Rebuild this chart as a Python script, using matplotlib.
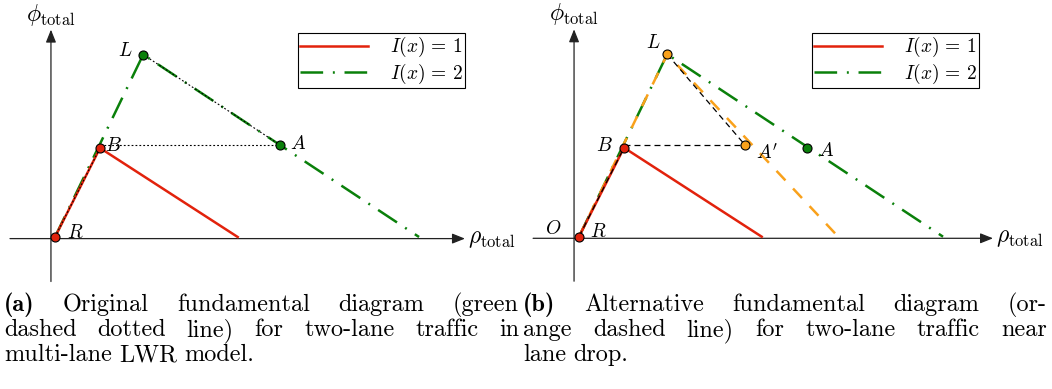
import matplotlib
matplotlib.use("Agg")
import matplotlib.pyplot as plt
from matplotlib.lines import Line2D

plt.rcParams["mathtext.fontset"] = "cm"
plt.rcParams["lines.scale_dashes"] = False

# ---------------------------------------------------------------- data
# I(x) = 1 : one-lane triangular fundamental diagram  R -> B -> jam density
rho_one = [0.0, 1.0, 4.06]
phi_one = [0.0, 1.0, 0.0]
# I(x) = 2 : two-lane diagram  R -> L -> jam density
rho_two = [0.0, 1.96, 8.09]
phi_two = [0.0, 2.05, 0.0]
# alternative two-lane diagram near a lane drop
rho_alt = [0.0, 1.96, 5.76]
phi_alt = [0.0, 2.05, 0.0]

# labelled states, panel (a)
names_a = ["R", "B", "L", "A"]
rho_pts_a = [0.0, 1.0, 1.96, 5.01]
phi_pts_a = [0.0, 1.0, 2.05, 1.03]
# labelled states, panel (b)
names_b = ["R", "B", "L", "A'", "A"]
rho_pts_b = [0.0, 1.0, 1.96, 3.69, 5.07]
phi_pts_b = [0.0, 1.0, 2.05, 1.03, 1.0]

legend_labels = [r"$I(x)\,=\,1$", r"$I(x)\,=\,2$"]

caption_tags = ["(a)", "(b)"]
caption_a = ["Original fundamental diagram (green",
             "dashed dotted line) for two-lane traffic in",
             "multi-lane LWR model."]
caption_b = ["Alternative fundamental diagram (or-",
             "ange dashed line) for two-lane traffic near",
             "lane drop."]

# ---------------------------------------------------------------- style
W, H, DPI = 1052, 389, 100
XU, YU = 45.0, 89.0          # pixels per data unit
PANEL_H = 260
RED = "#e2220c"
GREEN = "#0a800a"
ORANGE = "#f9a11b"
AXIS = "#222222"
LW = 1.8
DASHDOT = (16.3, 7.0, 1.4, 7.0)
DASHED = (9.4, 8.0)
DOTTED = (1.3, 1.5)
BLACKDASH = (4.3, 2.9)
PT_FS = 14       # point labels
AX_FS = 17       # axis labels
LEG_FS = 14
CAP_FS = 17.5

fig = plt.figure(figsize=(W / DPI, H / DPI), dpi=DPI)


def make_axes(px_left, px_width, origin):
    ox, oy = origin
    ax = fig.add_axes([px_left / W, 1 - PANEL_H / H, px_width / W, PANEL_H / H])
    ax.set_xlim((px_left - ox) / XU, (px_left + px_width - ox) / XU)
    ax.set_ylim(-(PANEL_H - oy) / YU, oy / YU)
    ax.axis("off")
    return ax


def draw_frame(ax, x0, y0, x_from, x_tip, y_from, y_tip):
    kw = dict(arrowstyle="-|>,head_length=0.55,head_width=0.22",
              mutation_scale=14, color=AXIS, lw=0.9, shrinkA=0, shrinkB=0)
    ax.annotate("", xy=(x_tip, y0), xytext=(x_from, y0), arrowprops=kw,
                annotation_clip=False)
    ax.annotate("", xy=(x0, y_tip), xytext=(x0, y_from), arrowprops=kw,
                annotation_clip=False)
    ax.text(x0, y_tip + 15 / YU, r"$\phi_{\mathrm{total}}$", fontsize=AX_FS,
            ha="center", va="center")
    ax.text(x_tip + 3 / XU, y0 + 1 / YU, r"$\rho_{\mathrm{total}}$",
            fontsize=AX_FS, ha="left", va="center")


def label_points(ax, names, xs, ys, offsets):
    for n, x, y in zip(names, xs, ys):
        dx, dy = offsets[n]
        txt = r"$A^{\prime}$" if n == "A'" else r"$%s$" % n
        ax.annotate(txt, (x, y), xytext=(dx * 0.72, dy * 0.72),
                    textcoords="offset points", ha="center", va="center",
                    fontsize=PT_FS)


def add_legend(ax, right_px, top_px):
    handles = [Line2D([], [], color=RED, lw=LW),
               Line2D([], [], color=GREEN, lw=LW, dashes=DASHDOT)]
    leg = ax.legend(handles, legend_labels, loc="upper right",
                    bbox_to_anchor=(right_px / W, 1 - top_px / H),
                    bbox_transform=fig.transFigure, borderaxespad=0,
                    fancybox=False, framealpha=1, edgecolor="black",
                    fontsize=LEG_FS, handlelength=3.5, handletextpad=1.1,
                    borderpad=0.12, labelspacing=0.12)
    leg.get_frame().set_linewidth(0.8)


# ---------------------------------------------------------------- panel (a)
axa = make_axes(0, 520, (55, 237))
draw_frame(axa, -0.09, -0.018, -1.0, 9.11, -0.5, 2.33)
axa.plot(rho_two, phi_two, color=GREEN, lw=LW, dashes=DASHDOT, zorder=2)
axa.plot(rho_one, phi_one, color=RED, lw=LW, zorder=3)
# construction lines R-B, B-A, L-A
axa.plot([rho_pts_a[0], rho_pts_a[1]], [phi_pts_a[0], phi_pts_a[1]],
         color="black", lw=0.8, dashes=DOTTED, zorder=4)
axa.plot([rho_pts_a[1], rho_pts_a[3]], [phi_pts_a[3], phi_pts_a[3]],
         color="black", lw=0.8, dashes=DOTTED, zorder=4)
axa.plot([rho_pts_a[2], rho_pts_a[3]], [phi_pts_a[2], phi_pts_a[3]],
         color="black", lw=0.8, dashes=DOTTED, zorder=4)
fills_a = [RED, RED, GREEN, GREEN]
for x, y, c in zip(rho_pts_a, phi_pts_a, fills_a):
    axa.plot(x, y, "o", ms=6.5, mfc=c, mec="black", mew=0.8, zorder=5)
label_points(axa, names_a, rho_pts_a, phi_pts_a,
             {"R": (20, 5), "B": (13, 3), "L": (-18, 4), "A": (18, 2)})
add_legend(axa, 465, 33)

# ---------------------------------------------------------------- panel (b)
axb = make_axes(520, 532, (579, 236.7))
draw_frame(axb, -0.11, -0.018, -1.02, 9.2, -0.5, 2.33)
axb.plot(rho_two, phi_two, color=GREEN, lw=LW, dashes=DASHDOT, zorder=2)
axb.plot(rho_alt, phi_alt, color=ORANGE, lw=LW, dashes=DASHED, zorder=2.5)
axb.plot(rho_one, phi_one, color=RED, lw=LW, zorder=3)
# construction lines R-B, B-A', L-A'
axb.plot([rho_pts_b[0], rho_pts_b[1]], [phi_pts_b[0], phi_pts_b[1]],
         color="black", lw=0.9, dashes=BLACKDASH, zorder=4)
axb.plot([rho_pts_b[1], rho_pts_b[3]], [phi_pts_b[3], phi_pts_b[3]],
         color="black", lw=0.9, dashes=BLACKDASH, zorder=4)
axb.plot([rho_pts_b[2], rho_pts_b[3]], [phi_pts_b[2], phi_pts_b[3]],
         color="black", lw=0.9, dashes=BLACKDASH, zorder=4)
fills_b = [RED, RED, ORANGE, ORANGE, GREEN]
for x, y, c in zip(rho_pts_b, phi_pts_b, fills_b):
    axb.plot(x, y, "o", ms=6.5, mfc=c, mec="black", mew=0.8, zorder=5)
label_points(axb, names_b, rho_pts_b, phi_pts_b,
             {"R": (19.5, 5), "B": (-20, 2), "L": (-14, 12),
              "A'": (22, -8), "A": (19, -3)})
axb.annotate(r"$O$", (0, 0), xytext=(-25.5 * 0.72, 8 * 0.72),
             textcoords="offset points", ha="center", va="center",
             fontsize=PT_FS)
add_legend(axb, 979, 33)

# ---------------------------------------------------------------- captions
BASELINES = [311, 336, 361]
COLUMNS = [(4, 519), (523, 1047)]
renderer = fig.canvas.get_renderer()


def text_width(s, family, fs):
    t = fig.text(0, 0, s, fontsize=fs, family=family)
    w = t.get_window_extent(renderer).width
    t.remove()
    return w


def split_words(tag, lines):
    out = []
    for i, line in enumerate(lines):
        words = [(w, "cmr10") for w in line.split()]
        if i == 0:
            words = [(tag, "cmb10")] + words
        out.append(words)
    return out


def set_caption(words_list, x0, x1):
    # justified lines, last line set ragged with natural word spacing
    space = 0.3 * CAP_FS * DPI / 72
    for i, words in enumerate(words_list):
        widths = [text_width(w, f, CAP_FS) for w, f in words]
        if i < len(words_list) - 1 and len(words) > 1:
            gap = (x1 - x0 - sum(widths)) / (len(words) - 1)
        else:
            gap = space
        x = x0
        for (w, f), wd in zip(words, widths):
            fig.text(x / W, 1 - BASELINES[i] / H, w, fontsize=CAP_FS,
                     family=f, ha="left", va="baseline")
            x += wd + gap


captions = [split_words(caption_tags[0], caption_a),
            split_words(caption_tags[1], caption_b)]
for words_list, (x0, x1) in zip(captions, COLUMNS):
    set_caption(words_list, x0, x1)

fig.savefig("out.png", dpi=DPI)
